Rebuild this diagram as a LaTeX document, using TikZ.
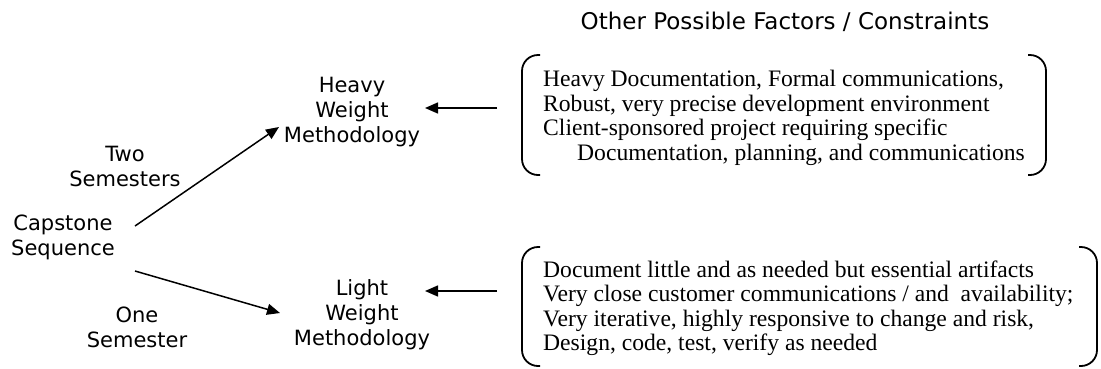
\documentclass[tikz,border=0pt]{standalone}
\usepackage{fontspec}
\setmainfont{Liberation Serif}
\newfontfamily\verd{DejaVu Sans}
\usetikzlibrary{arrows.meta}
\begin{document}
\begin{tikzpicture}[x=1pt,y=-1pt,
  lbl/.style={font=\verd\fontsize{21}{25}\selectfont, align=center, inner sep=0pt},
  ttl/.style={font=\verd\fontsize{23}{27}\selectfont, inner sep=0pt},
  body/.style={font=\fontsize{23.6}{24.5}\selectfont, align=left, inner sep=0pt, anchor=west},
  paren/.style={line width=1.8pt, rounded corners=16pt},
  arr/.style={line width=1.5pt, -{Triangle[length=13pt,width=11pt]}}]
\useasboundingbox (0,0) rectangle (1101,368);
% titles and labels
\node[ttl] (title) at (785,22) {Other Possible Factors / Constraints};
\node[lbl] (heavy) at (352,112) {Heavy\\Weight\\Methodology};
\node[lbl] (two) at (125,166) {Two\\Semesters};
\node[lbl] (cap) at (63,237) {Capstone\\Sequence};
\node[lbl] (one) at (137,327) {One\\Semester};
\node[lbl] (light) at (362,315) {Light\\Weight\\Methodology};
% arrow end points
\coordinate (upS) at (135,226);
\coordinate (upE) at (279,127);
\coordinate (dnS) at (135,271);
\coordinate (dnE) at (280,313);
\coordinate (hS) at (497,108);
\coordinate (hE) at (425,108);
\coordinate (lS) at (497,291);
\coordinate (lE) at (425,291);
\draw[arr] (upS) -- (upE);
\draw[arr] (dnS) -- (dnE);
\draw[arr] (hS) -- (hE);
\draw[arr] (lS) -- (lE);
% top bracket box
\draw[paren] (540,55) -- (522,55) -- (522,175) -- (540,175);
\draw[paren] (1028,55) -- (1046,55) -- (1046,175) -- (1028,175);
\node[body] (topbox) at (543,118) {Heavy Documentation, Formal communications,\\
Robust, very precise development environment\\
Client-sponsored project requiring specific\\
\hspace*{34pt}Documentation, planning, and communications};
% bottom bracket box
\draw[paren] (540,247) -- (522,247) -- (522,366) -- (540,366);
\draw[paren] (1079,247) -- (1097,247) -- (1097,366) -- (1079,366);
\node[body] (botbox) at (543,308) {Document little and as needed but essential artifacts\\
Very close customer communications / and\ \ availability;\\
Very iterative, highly responsive to change and risk,\\
Design, code, test, verify as needed};
\end{tikzpicture}
\end{document}
